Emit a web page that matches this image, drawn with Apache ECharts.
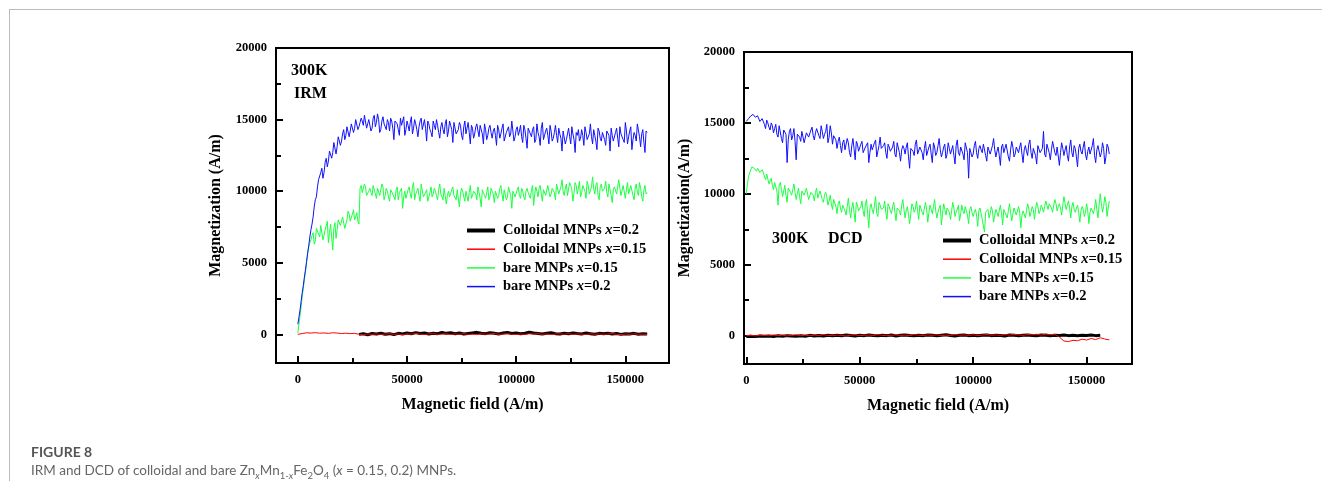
<!DOCTYPE html>
<html>
<head>
<meta charset="utf-8">
<script src="https://cdn.jsdelivr.net/npm/echarts@6/dist/echarts.min.js"></script>
<style>
  html, body { margin: 0; padding: 0; background: #fff; }
  #chart { position: absolute; left: 0; top: 0; width: 1322px; height: 504px; }
  #frame { position: absolute; left: 9px; top: 9px; width: 1313px; height: 471px;
           border-top: 1px solid #bbb; border-left: 1px solid #bbb; }
  .cap { position: absolute; left: 31px; font-family: Lato, sans-serif; line-height: 18px; white-space: nowrap; }
  #cap1 { top: 443px; color: #555; font-weight: bold; font-size: 14px; }
  #cap2 { top: 461px; color: #666; font-size: 13.5px; }
  sub { font-size: 9.5px; line-height: 0; }
</style>
</head>
<body>
<div id="frame"></div>
<div id="chart"></div>
<div class="cap" id="cap1">FIGURE 8</div>
<div class="cap" id="cap2">IRM and DCD of colloidal and bare Zn<sub><i>x</i></sub>Mn<sub>1-<i>x</i></sub>Fe<sub>2</sub>O<sub>4</sub> (<i>x</i> = 0.15, 0.2) MNPs.</div>
<script>
// magnetic field sampling (A/m)
const fieldFine = [
  0,1000,2000,3000,4000,5000,6000,7000,8000,9000,10000,11000,12000,13000,14000,15000,16000,17000,18000,19000,
  20000,21000,22000,23000,24000,25000,26000,27000,28000,29000,30000,31000,32000,33000,34000,35000,36000,37000,38000,39000,
  40000,41000,42000,43000,44000,45000,46000,47000,48000,49000,50000,51000,52000,53000,54000,55000,56000,57000,58000,59000,
  60000,61000,62000,63000,64000,65000,66000,67000,68000,69000,70000,71000,72000,73000,74000,75000,76000,77000,78000,79000,
  80000,81000,82000,83000,84000,85000,86000,87000,88000,89000,90000,91000,92000,93000,94000,95000,96000,97000,98000,99000,
  100000,101000,102000,103000,104000,105000,106000,107000,108000,109000,110000,111000,112000,113000,114000,115000,116000,117000,118000,119000,
  120000,121000,122000,123000,124000,125000,126000,127000,128000,129000,130000,131000,132000,133000,134000,135000,136000,137000,138000,139000,
  140000,141000,142000,143000,144000,145000,146000,147000,148000,149000,150000,151000,152000,153000,154000,155000,156000,157000,158000,159000,
  160000
];
const fieldMid = [
  500,1500,2500,3500,4500,5500,6500,7500,8500,9500,10500,11500,12500,13500,14500,15500,16500,17500,18500,19500,
  20500,21500,22500,23500,24500,25500,26500,27500,28500,29500,30500,31500,32500,33500,34500,35500,36500,37500,38500,39500,
  40500,41500,42500,43500,44500,45500,46500,47500,48500,49500,50500,51500,52500,53500,54500,55500,56500,57500,58500,59500,
  60500,61500,62500,63500,64500,65500,66500,67500,68500,69500,70500,71500,72500,73500,74500,75500,76500,77500,78500,79500,
  80500,81500,82500,83500,84500,85500,86500,87500,88500,89500,90500,91500,92500,93500,94500,95500,96500,97500,98500,99500,
  100500,101500,102500,103500,104500,105500,106500,107500,108500,109500,110500,111500,112500,113500,114500,115500,116500,117500,118500,119500,
  120500,121500,122500,123500,124500,125500,126500,127500,128500,129500,130500,131500,132500,133500,134500,135500,136500,137500,138500,139500,
  140500,141500,142500,143500,144500,145500,146500,147500,148500,149500,150500,151500,152500,153500,154500,155500,156500,157500,158500,159500
];
const fieldCoarse = [
  0,2000,4000,6000,8000,10000,12000,14000,16000,18000,20000,22000,24000,26000,28000,30000,32000,34000,36000,38000,
  40000,42000,44000,46000,48000,50000,52000,54000,56000,58000,60000,62000,64000,66000,68000,70000,72000,74000,76000,78000,
  80000,82000,84000,86000,88000,90000,92000,94000,96000,98000,100000,102000,104000,106000,108000,110000,112000,114000,116000,118000,
  120000,122000,124000,126000,128000,130000,132000,134000,136000,138000,140000,142000,144000,146000,148000,150000,152000,154000,156000,158000,
  160000
];

// IRM, magnetization (A/m)
const irmBare02 = [
  700,1700,2900,4000,5100,6200,7300,8200,9400,10300,10900,11600,11300,12300,12100,12900,12700,13300,13100,13900,
  13500,14300,13900,14600,14200,14800,14400,14900,14500,15100,14600,15200,14700,15100,14400,15300,14800,15000,14300,15200,
  14600,15000,14200,14900,13600,14800,14300,15100,14500,13900,14900,14200,15200,14400,14700,13800,14900,14300,15000,13500,
  14700,14100,14900,14300,14600,13700,14800,14000,15000,14200,14600,13400,14700,14100,14800,13900,14500,14000,14800,13300,
  14400,14000,14700,13800,14500,13300,14300,13900,14600,13700,14400,13200,14300,14000,14700,13600,14200,13800,14900,13500,
  14300,13900,14600,13400,14300,13000,14200,13800,14500,13600,14100,13200,14800,13900,14400,13300,14200,13700,14600,13400,
  14000,12800,14100,13600,14400,13300,14000,12700,13900,13500,14300,13200,14100,13600,14700,13300,13900,12900,14200,13500,
  14000,13200,14300,12800,13900,13400,14400,13100,14000,13600,14800,13300,14200,12900,14100,13500,14600,13100,14300,12700,
  14100
];
const irmBare02Mid = [
  1200,2300,3400,4500,5700,6800,7700,8900,9600,10800,11300,10900,12000,11700,12800,12300,13400,12600,13800,13200,
  14000,13600,14500,13800,14700,14100,15000,14300,14800,14900,15300,14400,15000,14200,15100,14500,15400,14100,14900,14700,
  14300,14800,15100,14400,14900,14700,13900,14600,15200,14300,14600,14800,14000,15000,14300,14500,15100,14200,14400,14900,
  14300,13800,14600,15000,14100,14500,14300,14700,13800,14900,14300,14800,14000,14300,14600,13600,14900,14400,14100,14600,
  13700,14500,14200,14600,14000,14700,13600,14400,14100,14200,13900,14600,13700,14400,13500,14100,14500,14000,14200,13800,
  14500,14200,13800,14600,13700,14400,14000,14300,13400,14700,13800,14400,13600,14200,13900,14600,13500,14100,13900,14400,
  13700,14200,13300,14000,13800,14500,13600,14100,14300,13700,13900,14500,13600,14000,13800,14300,13500,14400,13700,14100,
  13600,14200,13900,14400,13500,14100,13700,14500,13900,13400,14200,13800,14500,13600,13900,14700,13800,14000,13400,14200
];
const irmBare015 = [
  100,1300,2600,3800,5000,6100,6600,7100,6500,7300,6800,7500,6900,7600,6400,7700,5900,7800,7300,8100,
  7500,8300,7700,8600,7900,8400,8000,8500,7700,10400,9800,10300,9600,10200,9700,10400,9500,10100,9600,10300,
  9700,10000,9300,10200,9700,10100,9400,9900,8800,10000,9600,10300,9500,10600,9800,10200,9300,10400,9700,10100,
  9200,10300,9800,10000,9400,10500,9700,10200,9100,10000,9500,10300,9800,10100,8900,10200,9600,10000,9300,10400,
  9700,10100,9400,10200,8900,9900,9500,10300,9600,10000,9200,10100,9700,10400,9300,10000,9600,10200,8800,10100,
  9700,10300,9500,10000,9400,10200,9800,10100,9000,10300,9600,10400,9300,10200,9700,10500,9800,10300,9400,10600,
  9900,10800,9700,10500,9600,10400,9300,10600,9800,10700,9900,10500,9500,10400,9700,11000,9800,10600,9400,10500,
  9900,10700,9600,10400,9200,10300,9800,10800,9700,10400,9500,10600,9900,10300,9400,10500,9700,10200,9300,10400,
  9900
];
const irmBare015Mid = [
  700,1900,3200,4400,5600,6400,6900,6300,7400,7000,7600,6600,7300,7900,7100,6800,7400,6700,8000,7600,
  8200,7400,8000,8400,7800,8700,8200,7900,10200,9900,10500,9700,10000,9900,10400,9800,10200,9700,10500,9400,
  10200,9600,10100,9800,9400,10300,9900,10200,9600,9500,10100,9800,10300,9400,10000,9700,10500,9600,9900,9300,
  9900,9600,10200,9700,10100,9800,9400,10300,9700,9600,10100,9700,9400,10200,9800,10000,9300,10100,9900,9500,
  10000,9800,10300,9500,10100,9700,9900,9400,10200,9800,10000,9500,10200,9800,10100,9400,10300,9700,10000,9600,
  10100,9700,10200,9600,10000,9900,9500,10400,9800,10000,10200,9800,10100,9700,10400,9600,10200,9900,10500,9800,
  10300,10000,10200,9700,10600,10100,9900,10400,10200,9600,10400,10000,10700,9800,10300,10200,10400,9700,10300,10000,
  10200,9900,10500,9700,10100,10400,9900,10200,9600,10300,10100,9800,10400,9700,10200,9900,10600,9600,10100,9800
];
const irmColl015 = [
  0,60,110,90,120,80,100,70,110,90,60,80,50,70,10,-20,30,0,40,-10,
  20,50,0,30,-20,40,10,60,20,-10,30,50,0,20,40,-10,30,10,50,0,
  20,-20,40,10,30,60,0,20,50,10,-10,30,0,40,20,50,0,30,-10,20,
  40,10,50,0,30,20,-10,40,10,30,0,20,50,10,-20,30,0,40,10,20,
  0
];
const irmColl02 = [
  null,null,null,null,null,null,null,null,null,null,null,null,null,null,0,40,-30,60,20,80,
  10,50,-20,70,30,90,40,120,60,100,30,80,50,130,70,110,40,90,20,60,
  100,140,80,50,110,70,30,90,130,60,100,40,80,150,90,60,30,70,110,50,
  20,80,40,100,60,30,90,50,10,70,40,80,20,60,0,50,30,70,10,40,
  20
];

// DCD, magnetization (A/m)
const dcdBare02 = [
  15100,15300,15500,15600,15400,15500,15100,15300,14900,15200,14700,15000,14300,14900,14000,14700,13600,14600,12200,14400,
  13800,14600,12400,14300,13700,14500,13500,14200,13900,14700,13800,14600,14100,14800,13900,14400,13600,14800,13500,14200,
  13200,14000,12900,13800,13100,13600,12600,13900,12400,13500,13000,13700,12800,13400,12200,13500,13000,13800,12700,14000,
  13100,13600,12500,13300,12900,13700,12600,13500,12300,13400,12800,13600,11800,13300,12700,13800,12900,13400,12400,13700,
  12800,13500,12200,13300,12900,13900,12600,13300,12500,13600,12800,13400,12100,13800,12700,13200,12400,13500,11100,13300,
  12800,13700,12500,13400,12900,13600,12300,13200,12700,13900,12600,13300,12000,13500,12800,13400,12300,13700,12600,13300,
  12900,13600,12200,13400,12700,13800,12500,13300,12100,13500,12800,14400,12600,13400,12400,13700,12900,13300,12000,13600,
  12700,13400,12300,13800,12600,13200,11900,13500,12800,13700,12400,13300,12700,13900,12200,13400,12600,13600,12100,13500,
  12800
];
const dcdBare02Mid = [
  15200,15400,15600,15500,15300,15600,15000,15400,14600,15000,14500,14800,14600,14200,14800,13900,14500,14200,13800,14600,
  14100,13700,14200,14000,14400,13600,14300,14000,14500,14100,14300,14700,13900,14400,14200,14900,14000,14300,14100,13800,
  13700,13400,13600,13100,13900,12900,13400,13200,13700,13000,13500,12900,13300,13600,12900,13100,13600,12600,13400,13200,
  13400,12900,13500,13000,13300,12800,13600,12900,13100,13200,13300,12600,13200,13000,13500,12800,13300,12900,13200,12700,
  13300,12800,13600,12700,13400,13100,12900,13500,12800,13200,13100,12700,13400,12900,13300,12800,13600,12900,13200,12600,
  13400,12900,13200,13100,13500,12700,13300,12800,13400,13100,13000,12700,13300,12900,13500,12600,13100,13300,12800,13200,
  13300,12800,13100,13000,13500,12900,13200,12700,13400,12900,13200,12800,13500,12900,13100,13300,12700,13400,12900,13200,
  13100,12700,13300,12900,13400,12600,13200,13000,13300,12800,13000,12800,13400,12700,13100,13300,12900,13200,12600,13300
];
const dcdBare015 = [
  10000,11200,11700,11900,11700,11800,11500,11700,11200,11400,10700,11100,10300,10900,9200,10800,9800,10600,9400,10500,
  9900,10700,9600,10400,9300,10300,9800,10500,9700,10200,9500,10400,9800,10300,9400,10100,9200,9900,8900,9700,
  8600,9500,8700,9300,8500,9700,8300,9400,8000,9200,8700,9500,8400,9600,7600,9300,8600,9800,8400,9200,
  8800,9500,8200,9100,8600,9400,8100,9000,8500,9600,8300,9100,7900,9300,8700,9500,8200,9100,8500,9400,
  8000,9200,8600,9600,8300,9000,7800,9300,8500,9100,8200,9400,8400,8900,8100,9200,8600,9000,7900,9100,
  8400,8900,7700,9000,8200,7300,8800,8300,9100,8000,8900,8400,9200,7800,8900,8300,9300,8100,9000,8500,
  9100,7600,8800,8300,9300,8400,9100,8200,9400,8600,9200,8700,9500,8900,9400,8700,9600,8800,9300,8500,
  9800,8900,9500,8300,9400,8700,9200,8000,9100,8400,9300,7900,9000,8600,9600,8300,10000,8700,9800,8400,
  9500
];
const dcdBare015Mid = [
  10700,11500,11900,11800,11600,11900,11400,11500,11000,11300,10900,10600,10800,10200,10600,10300,10200,9900,10400,10100,
  10300,10100,10000,9800,10200,9900,10400,9600,10100,9900,10100,9700,10200,9600,9900,9800,9500,9300,9600,9100,
  9300,9000,9200,8800,9100,8900,9000,8700,9400,8800,9100,8800,9300,8600,9000,8900,9200,8600,9400,8900,
  9000,8700,9300,8800,9100,8700,9000,8800,9200,8900,8800,9000,8600,9100,8900,8800,9200,8700,9000,8900,
  8700,8900,9100,8800,8700,9200,8600,8900,9000,8700,8800,9000,8700,9200,8600,8800,9100,8500,8900,8700,
  8700,8500,8800,8600,8300,8700,8900,8600,8800,8500,8700,8800,8600,8900,8500,8800,8700,8600,9000,8800,
  8700,8500,8900,8800,9000,8700,8900,8900,9100,8800,9000,9100,9200,9300,9000,9200,9300,9100,9000,9200,
  9300,9200,9000,9100,8900,9000,8700,8800,8900,8700,8800,8700,9100,9000,8900,9200,9300,9100,9400,9000
];
const dcdColl02 = [
  -60,-40,-70,-30,-50,-20,-60,-10,-40,0,-30,-50,-10,-40,20,-20,10,-30,30,0,
  20,-10,40,10,-20,30,0,50,10,-10,30,0,40,-20,20,50,10,-10,30,0,
  40,20,-10,30,60,10,-20,20,40,0,30,-10,20,50,0,30,10,-20,40,20,
  0,30,50,10,-10,40,20,0,30,10,40,0,20,-10,30,10,40,0,20,null,
  null
];
const dcdColl015 = [
  0,20,-20,30,10,-10,40,0,30,-20,20,50,0,30,-10,40,10,60,20,0,
  40,10,-20,30,50,0,20,40,10,60,20,-10,30,50,10,40,0,70,30,10,
  50,20,60,0,40,10,70,30,50,20,60,10,40,80,30,50,20,70,40,90,
  50,20,80,60,100,40,110,70,90,-100,-380,-420,-330,-360,-250,-310,-200,-280,-150,-240,
  -300
];

const seriesNames = ['Colloidal MNPs x=0.2', 'Colloidal MNPs x=0.15', 'bare MNPs x=0.15', 'bare MNPs x=0.2'];
const seriesColors = ['#000000', '#ff0000', '#1aff40', '#1010ff'];
const seriesWidths = [3, 1, 1, 1];

const xMajor = [0, 50000, 100000, 150000];
const xMinor = [25000, 75000, 125000];
const yMajor = [0, 5000, 10000, 15000, 20000];
const yMinor = [2500, 7500, 12500, 17500];

const serif = '"Liberation Serif", "Times New Roman", serif';

function pairs(field, vals) {
  const out = [];
  for (let i = 0; i < vals.length; i++) {
    if (vals[i] !== null) out.push([field[i], vals[i]]);
  }
  return out;
}
function merged(a, b) {
  return a.concat(b).sort(function (p, q) { return p[0] - q[0]; });
}

const panels = [
  { grid: { left: 276, top: 48, width: 393, height: 315 }, xMin: -10000, yName: 'Magnetization (A/m)', yGap: 52,
    data: [pairs(fieldCoarse, irmColl02), pairs(fieldCoarse, irmColl015),
           merged(pairs(fieldFine, irmBare015), pairs(fieldMid, irmBare015Mid)),
           merged(pairs(fieldFine, irmBare02), pairs(fieldMid, irmBare02Mid))],
    legend: { left: 465, top: 223 } },
  { grid: { left: 744, top: 52, width: 388, height: 312 }, xMin: -1000, yName: 'Magnetization(A/m)', yGap: 51,
    data: [pairs(fieldCoarse, dcdColl02), pairs(fieldCoarse, dcdColl015),
           merged(pairs(fieldFine, dcdBare015), pairs(fieldMid, dcdBare015Mid)),
           merged(pairs(fieldFine, dcdBare02), pairs(fieldMid, dcdBare02Mid))],
    legend: { left: 941, top: 233 } }
];

const labelFont = { fontFamily: serif, fontWeight: 'bold', fontSize: 12.5, color: '#000' };
const nameFont = { fontFamily: serif, fontWeight: 'bold', fontSize: 16, color: '#000' };
const plain = function (v) { return String(v); };

const grids = [], xAxes = [], yAxes = [], series = [], legends = [];

panels.forEach(function (p, gi) {
  grids.push(Object.assign({ show: true, borderColor: '#000', borderWidth: 2, containLabel: false }, p.grid));

  // major ticks and labels
  xAxes.push({
    gridIndex: gi, type: 'value', min: p.xMin, max: 170000,
    name: 'Magnetic field (A/m)', nameLocation: 'middle', nameGap: 34, nameTextStyle: nameFont,
    axisLine: { onZero: false, lineStyle: { color: '#000', width: 2 } },
    axisTick: { inside: true, length: 7, customValues: xMajor, lineStyle: { color: '#000', width: 2 } },
    axisLabel: Object.assign({ customValues: xMajor, margin: 10, formatter: plain }, labelFont),
    splitLine: { show: false }
  });
  // minor ticks
  xAxes.push({
    gridIndex: gi, type: 'value', min: p.xMin, max: 170000, position: 'bottom',
    axisLine: { show: false, onZero: false },
    axisTick: { inside: true, length: 5, customValues: xMinor, lineStyle: { color: '#000', width: 2 } },
    axisLabel: { show: false }, splitLine: { show: false }
  });
  yAxes.push({
    gridIndex: gi, type: 'value', min: -2000, max: 20000,
    name: p.yName, nameLocation: 'middle', nameGap: p.yGap, nameTextStyle: nameFont,
    axisLine: { onZero: false, lineStyle: { color: '#000', width: 2 } },
    axisTick: { inside: true, length: 7, customValues: yMajor, lineStyle: { color: '#000', width: 2 } },
    axisLabel: Object.assign({ customValues: yMajor, margin: 9, formatter: plain }, labelFont),
    splitLine: { show: false }
  });
  yAxes.push({
    gridIndex: gi, type: 'value', min: -2000, max: 20000, position: 'left',
    axisLine: { show: false, onZero: false },
    axisTick: { inside: true, length: 5, customValues: yMinor, lineStyle: { color: '#000', width: 2 } },
    axisLabel: { show: false }, splitLine: { show: false }
  });

  p.data.forEach(function (d, si) {
    series.push({
      name: seriesNames[si], type: 'line', xAxisIndex: gi * 2, yAxisIndex: gi * 2,
      data: d, showSymbol: false, symbol: 'none', silent: true,
      lineStyle: { color: seriesColors[si], width: seriesWidths[si] },
      itemStyle: { color: seriesColors[si] }
    });
  });

  legends.push({
    left: p.legend.left, top: p.legend.top, orient: 'vertical', selectedMode: false, padding: 0,
    itemWidth: 28, itemHeight: 14, itemGap: 3.7,
    itemStyle: { opacity: 0 },
    data: seriesNames.map(function (n, i) { return { name: n, lineStyle: { width: i === 0 ? 4 : 1.5 } }; }),
    formatter: function (n) { return n.replace(' x=', ' {i|x}='); },
    textStyle: {
      fontFamily: serif, fontWeight: 'bold', fontSize: 14.5, color: '#000', lineHeight: 15, padding: [0, 0, 0, 3],
      rich: { i: { fontFamily: serif, fontWeight: 'bold', fontStyle: 'italic', fontSize: 14.5, lineHeight: 15 } }
    }
  });
});

const tagFont = 'bold 16px ' + serif;
const chart = echarts.init(document.getElementById('chart'), null, { renderer: 'canvas' });
chart.setOption({
  animation: false,
  backgroundColor: 'transparent',
  grid: grids,
  xAxis: xAxes,
  yAxis: yAxes,
  legend: legends,
  series: series,
  graphic: [
    { type: 'text', x: 291, y: 71, style: { text: '300K', font: tagFont, fill: '#000', verticalAlign: 'middle' } },
    { type: 'text', x: 294, y: 94, style: { text: 'IRM', font: tagFont, fill: '#000', verticalAlign: 'middle' } },
    { type: 'text', x: 772, y: 239, style: { text: '300K', font: tagFont, fill: '#000', verticalAlign: 'middle' } },
    { type: 'text', x: 828, y: 239, style: { text: 'DCD', font: tagFont, fill: '#000', verticalAlign: 'middle' } }
  ]
});
</script>
</body>
</html>
